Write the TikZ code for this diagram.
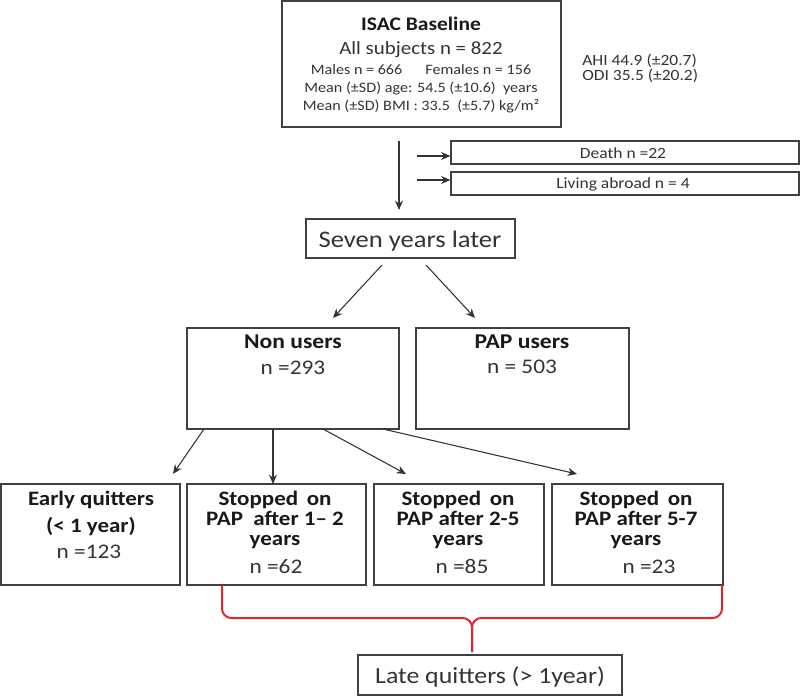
\documentclass[tikz,border=0pt]{standalone}
\usepackage{fontspec}
\setmainfont{Carlito}[FakeStretch=1.12]
\usetikzlibrary{arrows.meta,fit}
\definecolor{bracered}{HTML}{E3262B}
\begin{document}
\begin{tikzpicture}[x=0.75pt,y=-0.75pt,
  box/.style={draw=black!75,line width=0.9pt,inner sep=0pt},
  txt/.style={anchor=base,inner sep=0pt,text=black!80},
  ltxt/.style={anchor=base west,inner sep=0pt,text=black!80},
  bold/.style={font=\bfseries\fontsize{15.4}{18}\selectfont,text=black!90},
  reg/.style={font=\fontsize{15.6}{18}\selectfont},
  small/.style={font=\fontsize{10.8}{13}\selectfont},
  mid/.style={font=\fontsize{11.7}{14}\selectfont},
  arr/.style={draw=black!80,line width=0.8pt,-{Stealth[length=7pt,width=6pt]}},
  bracestyle/.style={draw=bracered,line width=1.5pt,rounded corners=7pt}
]
\useasboundingbox (0,0) rectangle (800,696);

% boxes
\node[box,fit={(282,1) (561,127)}] (isac) {};
\node[box,fit={(451,141) (799,164)}] (death) {};
\node[box,fit={(451,172) (799,195)}] (abroad) {};
\node[box,fit={(306,219) (515,258)}] (seven) {};
\node[box,fit={(187,328) (399,429)}] (nonu) {};
\node[box,fit={(416,328) (629,429)}] (papu) {};
\node[box,fit={(1,484) (180,585)}] (early) {};
\node[box,fit={(187,484) (366,585)}] (s12) {};
\node[box,fit={(374,484) (544,585)}] (s25) {};
\node[box,fit={(552,484) (723,585)}] (s57) {};
\node[box,fit={(358,655) (622,695)}] (late) {};

% ISAC texts
\node[txt,font=\bfseries\fontsize{14.4}{17}\selectfont,text=black!90] (t1) at (421,31) {ISAC Baseline};
\node[txt,font=\fontsize{14}{17}\selectfont] (t2) at (421,55) {All subjects n = 822};
\node[txt,small] (t3) at (421,74) {Males n = 666\hspace{1.6em}Females n = 156};
\node[txt,small] (t4) at (421,92) {Mean (±SD) age: 54.5 (±10.6)\hspace{0.5em}years};
\node[txt,small] (t5) at (421,110) {Mean (±SD) BMI : 33.5\hspace{0.5em}(±5.7) kg/m²};
\node[ltxt,mid] (ahi) at (582,65) {AHI 44.9 (±20.7)};
\node[ltxt,mid] (odi) at (582,80) {ODI 35.5 (±20.2)};

\node[txt,mid] (tdeath) at (623,158) {Death n =22};
\node[txt,mid] (tabroad) at (623,188) {Living abroad n = 4};
\node[txt,font=\fontsize{17.8}{21}\selectfont] (tseven) at (410,247) {Seven years later};

\node[txt,bold,font=\bfseries\fontsize{15.8}{19}\selectfont] (tnon) at (293,348) {Non users};
\node[txt,reg] (tnonn) at (293,374) {n =293};
\node[txt,bold,font=\bfseries\fontsize{15.8}{19}\selectfont] (tpap) at (522,348) {PAP users};
\node[txt,reg] (tpapn) at (522,373) {n = 503};

\node[txt,bold] (e1) at (91,505) {Early quitters};
\node[txt,bold] (e2) at (91,532) {(< 1 year)};
\node[txt,reg] (e3) at (89,558) {n =123};

\node[txt,bold] (a1) at (275,505) {Stopped\, on};
\node[txt,bold] (a2) at (275,525) {PAP\ \ after 1– 2};
\node[txt,bold] (a3) at (275,545) {years};
\node[txt,reg] (a4) at (276,573) {n =62};

\node[txt,bold] (b1) at (458,505) {Stopped\, on};
\node[txt,bold] (b2) at (458,525) {PAP after 2-5};
\node[txt,bold] (b3) at (458,545) {years};
\node[txt,reg] (b4) at (462,573) {n =85};

\node[txt,bold] (c1) at (636,505) {Stopped\, on};
\node[txt,bold] (c2) at (636,525) {PAP after 5-7};
\node[txt,bold] (c3) at (636,545) {years};
\node[txt,reg] (c4) at (649,573) {n =23};

\node[txt,font=\fontsize{17.3}{21}\selectfont] (tlate) at (490,683) {Late quitters (> 1year)};

% connector end points
\coordinate (v0) at (399,141);
\coordinate (v1) at (399,210);
\coordinate (d0) at (417,156);
\coordinate (l0) at (417,180);
\coordinate (sa) at (382,265);
\coordinate (sb) at (426,265);
\coordinate (na) at (333,318);
\coordinate (pa) at (475,318);
\coordinate (n1) at (204,429);
\coordinate (n2) at (273,429);
\coordinate (n3) at (323,429);
\coordinate (n4) at (383,429);
\coordinate (q1) at (173,474);
\coordinate (q2) at (273,484);
\coordinate (q3) at (406,474);
\coordinate (q4) at (577,474);

\draw[arr] (v0) -- (v1);
\draw[arr] (d0) -- (d0 -| death.west);
\draw[arr] (l0) -- (l0 -| abroad.west);
\draw[arr] (sa) -- (na);
\draw[arr] (sb) -- (pa);
\draw[arr] (n1) -- (q1);
\draw[arr] (n2) -- (q2);
\draw[arr] (n3) -- (q3);
\draw[arr] (n4) -- (q4);

% red brace
\coordinate (bl) at (222,585);
\coordinate (br) at (722,585);
\coordinate (bc) at (472,618);
\coordinate (bt) at (472,652);
\draw[bracestyle] (bl) |- (bc) -- (bt);
\draw[bracestyle] (br) |- (bc) -- (bt);
\end{tikzpicture}
\end{document}
